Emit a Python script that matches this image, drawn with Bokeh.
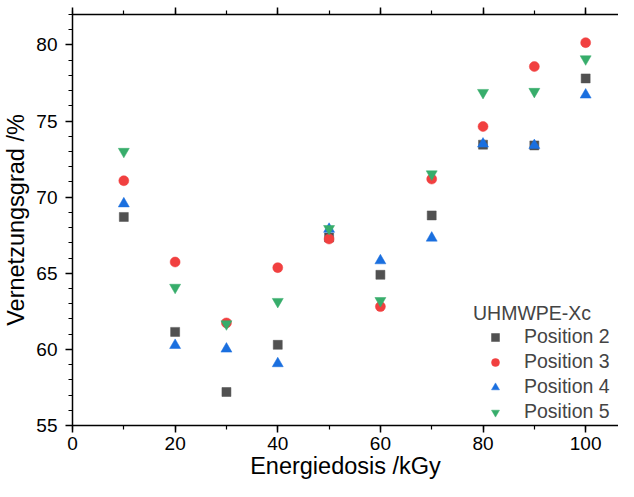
from bokeh.plotting import figure
from bokeh.models import LinearAxis, SingleIntervalTicker, Range1d, Legend, LegendItem, CustomJSTickFormatter
from bokeh.embed import file_html
from bokeh.resources import INLINE

# ---- data ----
dose = [10, 20, 30, 40, 50, 60, 70, 80, 90, 100]
pos2 = [68.7, 61.15, 57.2, 60.3, 67.35, 64.9, 68.8, 73.45, 73.4, 77.8]
pos3 = [71.08, 65.74, 61.74, 65.37, 67.25, 62.81, 71.19, 74.64, 78.58, 80.15]
pos4 = [69.57, 60.27, 60.03, 59.07, 67.9, 65.83, 67.32, 73.5, 73.4, 76.72]
pos5 = [73.0, 64.07, 61.67, 63.14, 67.93, 63.2, 71.52, 76.87, 76.94, 79.08]
series_names = ["Position 2", "Position 3", "Position 4", "Position 5"]
legend_title = "UHMWPE-Xc"
x_label = "Energiedosis /kGy"
y_label = "Vernetzungsgrad /%"

colors = ["#515151", "#F14040", "#1A6FDF", "#37AD6B"]
markers = ["square", "circle", "triangle", "inverted_triangle"]
sizes = [9, 10, 11, 11]

FONT = "Liberation Sans"

p = figure(width=618, height=481, output_backend="svg", toolbar_location=None,
           x_range=Range1d(0, 106.4), y_range=Range1d(55, 82),
           min_border_left=0, min_border_right=0, min_border_top=14, min_border_bottom=0)
p.outline_line_color = None
p.xgrid.visible = False
p.ygrid.visible = False
p.background_fill_color = "white"
p.border_fill_color = "white"

def style_axis(ax, ticker):
    ax.ticker = ticker
    ax.axis_line_width = 1.5
    ax.axis_line_color = "black"
    ax.major_tick_line_width = 1.5
    ax.minor_tick_line_width = 1.2
    ax.major_tick_in = 0
    ax.major_tick_out = 7
    ax.minor_tick_in = 0
    ax.minor_tick_out = 4
    ax.major_label_text_font = FONT
    ax.major_label_text_font_size = "19px"
    ax.major_label_text_color = "black"
    ax.axis_label_text_font = FONT
    ax.axis_label_text_font_size = "23.5px"
    ax.axis_label_text_font_style = "normal"
    ax.axis_label_text_color = "black"

xt = SingleIntervalTicker(interval=20, num_minor_ticks=2)
yt = SingleIntervalTicker(interval=5, num_minor_ticks=5)

style_axis(p.xaxis[0], xt)
style_axis(p.yaxis[0], yt)
p.xaxis[0].axis_label = x_label
p.yaxis[0].axis_label = y_label
p.xaxis[0].major_label_standoff = 4
p.xaxis[0].axis_label_standoff = 0
p.yaxis[0].major_label_standoff = 8
p.yaxis[0].axis_label_standoff = 4

top = LinearAxis()
style_axis(top, SingleIntervalTicker(interval=20, num_minor_ticks=2))
top.formatter = CustomJSTickFormatter(code="return ''")
top.major_label_standoff = 0
top.major_label_text_font_size = "1px"
p.add_layout(top, "above")

renderers = []
for ys, c, m, s in zip([pos2, pos3, pos4, pos5], colors, markers, sizes):
    r = p.scatter(dose, ys, marker=m, size=s, fill_color=c, line_color=c, line_width=0.5)
    renderers.append(r)

legend = Legend(items=[LegendItem(label=n, renderers=[r]) for n, r in zip(series_names, renderers)],
                location=(401, 2))
legend.title = legend_title
legend.title_text_font = FONT
legend.title_text_font_size = "19.5px"
legend.title_text_font_style = "normal"
legend.title_standoff = -3
legend.label_text_font = FONT
legend.label_text_font_size = "19.5px"
legend.border_line_color = None
legend.background_fill_alpha = 0
legend.padding = 0
legend.margin = 0
legend.glyph_width = 44
legend.glyph_height = 20
legend.label_height = 20
legend.label_standoff = 7
legend.spacing = 2
p.add_layout(legend)

open("out.html", "w").write(file_html(p, INLINE))
